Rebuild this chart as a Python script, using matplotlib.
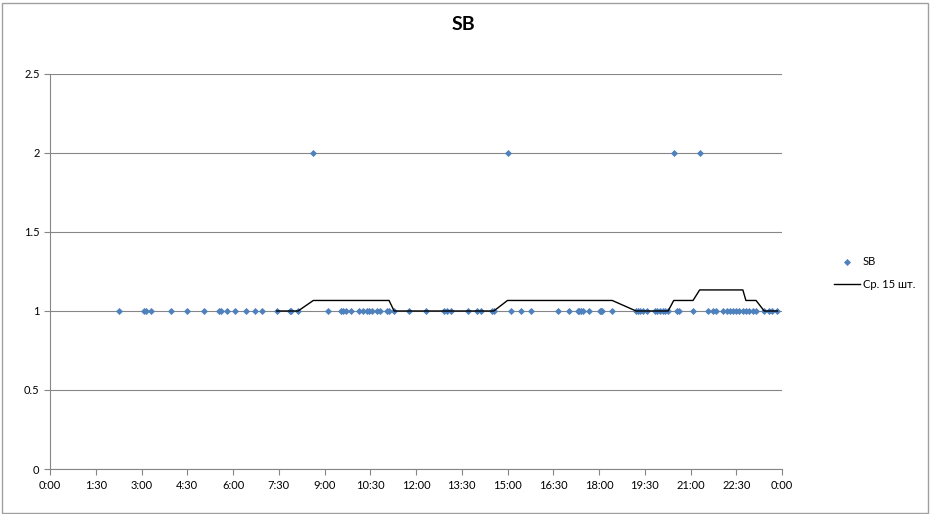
import matplotlib
matplotlib.use("Agg")
import matplotlib.pyplot as plt
import matplotlib.ticker as mticker
from matplotlib.patches import Rectangle
import pandas as pd

plt.rcParams['font.family'] = ['Lato', 'DejaVu Sans']

# Data: time of day and SB value
times = ["2:16", "3:04", "3:08", "3:19", "3:58", "4:29", "5:03", "5:33", "5:36", "5:48",
         "6:03", "6:26", "6:43", "6:57", "7:26", "7:52", "7:55", "8:08", "8:38", "9:07",
         "9:32", "9:37", "9:42", "9:53", "10:08", "10:16", "10:23", "10:28", "10:34", "10:43",
         "10:49", "11:02", "11:07", "11:17", "11:47", "12:20", "12:56", "13:00", "13:08", "13:43",
         "14:00", "14:08", "14:29", "14:33", "15:00", "15:06", "15:26", "15:46", "16:40", "17:01",
         "17:18", "17:21", "17:24", "17:28", "17:41", "18:01", "18:04", "18:06", "18:26", "19:13",
         "19:16", "19:20", "19:27", "19:34", "19:50", "19:55", "20:00", "20:05", "20:10", "20:16",
         "20:27", "20:33", "20:38", "21:05", "21:18", "21:35", "21:45", "21:51", "22:03", "22:11",
         "22:18", "22:24", "22:29", "22:36", "22:43", "22:49", "22:55", "23:02", "23:09", "23:25",
         "23:35", "23:41", "23:51"]
values = [1, 1, 1, 1, 1, 1, 1, 1, 1, 1,
          1, 1, 1, 1, 1, 1, 1, 1, 2, 1,
          1, 1, 1, 1, 1, 1, 1, 1, 1, 1,
          1, 1, 1, 1, 1, 1, 1, 1, 1, 1,
          1, 1, 1, 1, 2, 1, 1, 1, 1, 1,
          1, 1, 1, 1, 1, 1, 1, 1, 1, 1,
          1, 1, 1, 1, 1, 1, 1, 1, 1, 1,
          2, 1, 1, 1, 2, 1, 1, 1, 1, 1,
          1, 1, 1, 1, 1, 1, 1, 1, 1, 1,
          1, 1, 1]
tick_labels = ["0:00", "1:30", "3:00", "4:30", "6:00", "7:30", "9:00", "10:30", "12:00",
               "13:30", "15:00", "16:30", "18:00", "19:30", "21:00", "22:30", "0:00"]
title = "SB"
series_name = "SB"
ma_name = "Ср. 15 шт."
ma_period = 15

def to_hours(s):
    h, m = s.split(":")
    return int(h) + int(m) / 60.0

df = pd.DataFrame({"t": [to_hours(s) for s in times], "v": values}).sort_values("t")
df["ma"] = df["v"].rolling(ma_period).mean()

fig = plt.figure(figsize=(9.3, 5.14), dpi=100)
ax = fig.add_axes([50/930, 1-469/514, 732/930, 395/514])

grid_c = "#868686"
ax.scatter(df["t"], df["v"], marker="D", s=13, color="#4F81BD", zorder=3, label=series_name, linewidths=0)
ax.plot(df["t"], df["ma"], color="black", lw=1.0, zorder=4, label=ma_name)

ax.set_xlim(0, 24)
ax.set_ylim(0, 2.5)
ax.set_xticks([i * 1.5 for i in range(len(tick_labels))])
ax.set_xticklabels(tick_labels)
ax.set_yticks([0, 0.5, 1, 1.5, 2, 2.5])
ax.yaxis.set_major_formatter(mticker.FormatStrFormatter('%g'))
ax.grid(axis='y', color=grid_c, lw=0.8)
ax.set_axisbelow(True)
for sp in ["top", "right"]:
    ax.spines[sp].set_visible(False)
for sp in ["left", "bottom"]:
    ax.spines[sp].set_color(grid_c)
    ax.spines[sp].set_linewidth(0.8)
ax.tick_params(axis='both', direction='out', length=4, color=grid_c, labelsize=8, labelcolor="black")
ax.tick_params(axis='x', pad=4)

fig.text(463/930, 1-25/514, title, ha="center", va="center", fontsize=14, fontweight="bold")

h, l = ax.get_legend_handles_labels()
fig.legend(h, l, loc="upper left", bbox_to_anchor=(834/930, 1-256/514), frameon=False,
           fontsize=8, borderpad=0, borderaxespad=0, handlelength=2.3, handletextpad=0.3,
           labelspacing=1.1, markerscale=1.0)

fig.add_artist(Rectangle((1.5/930, 1.5/514), 926/930, 510/514, transform=fig.transFigure,
                         fill=False, edgecolor="#A0A0A0", lw=1))

fig.savefig("out.png", dpi=100)
